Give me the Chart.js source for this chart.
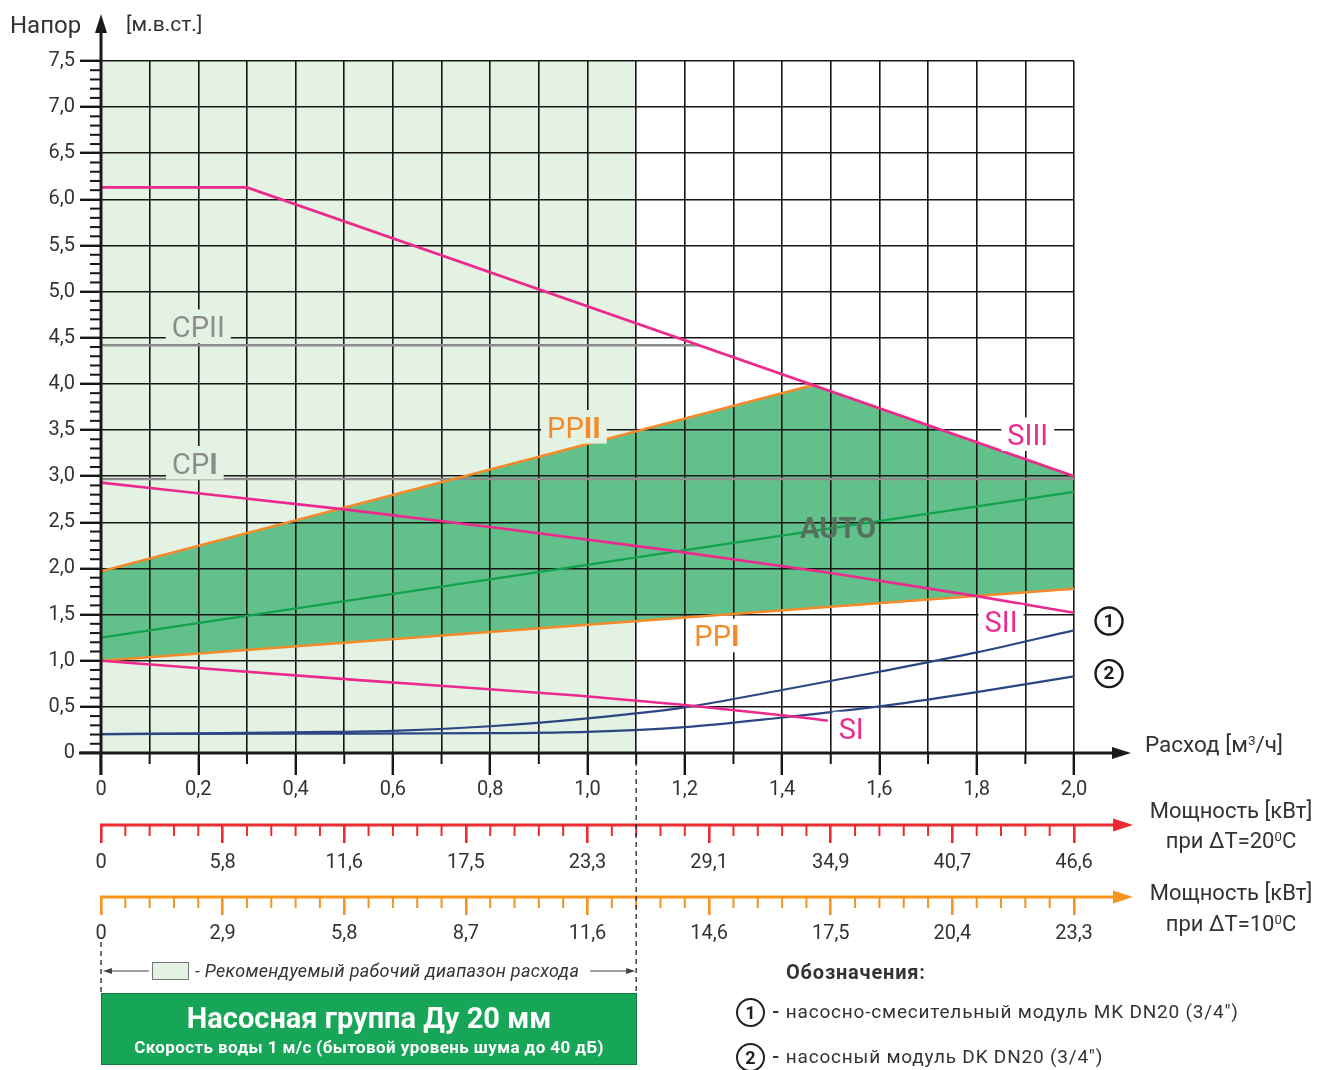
<!DOCTYPE html>
<html><head><meta charset="utf-8">
<script src="https://cdn.jsdelivr.net/npm/chart.js@4.4.1/dist/chart.umd.min.js"></script>
<style>
html,body{margin:0;padding:0;background:#fff;}
#wrap{position:relative;width:1320px;height:1070px;overflow:hidden;font-family:Roboto,'Open Sans',sans-serif;color:#333;}
canvas{position:absolute;left:0;top:0;}
.t{position:absolute;white-space:nowrap;line-height:1;}
.c{text-align:center;width:190px;}
.circ{position:absolute;width:25px;height:25px;border:2.4px solid #222;border-radius:50%;text-align:center;line-height:25px;font-weight:bold;font-size:18px;color:#222;}
sup{font-size:60%;vertical-align:0.55em;line-height:0;}
</style></head><body>
<div id="wrap">
<canvas id="c" width="1320" height="1070"></canvas>
<div class="t" style="left:10px;top:13px;font-size:24px;">Напор</div>
<div class="t" style="left:126px;top:14px;font-size:21px;">[м.в.ст.]</div>
<div class="t" style="left:1145px;top:733px;font-size:22.5px;">Расход [м<sup>3</sup>/ч]</div>
<div class="t c" style="left:1136px;top:800px;font-size:22px;">Мощность [кВт]</div>
<div class="t c" style="left:1136px;top:830px;font-size:22px;">при ∆T=20<sup>0</sup>C</div>
<div class="t c" style="left:1136px;top:882px;font-size:22px;">Мощность [кВт]</div>
<div class="t c" style="left:1136px;top:913px;font-size:22px;">при ∆T=10<sup>0</sup>C</div>
<div style="position:absolute;left:152px;top:962px;width:35px;height:16px;background:#e4f2e3;border:1.5px solid #777;"></div>
<div class="t" style="left:195px;top:962px;font-size:18px;letter-spacing:0.3px;font-style:italic;">- Рекомендуемый рабочий диапазон расхода</div>
<div style="position:absolute;left:101px;top:993px;width:534px;height:70px;background:#17a657;border:1px solid #0f7d40;color:#fff;text-align:center;font-weight:bold;">
  <div style="font-size:29px;margin-top:10px;line-height:1;">Насосная группа Ду 20 мм</div>
  <div style="font-size:17px;letter-spacing:0.4px;margin-top:6px;line-height:1;">Скорость воды 1 м/с (бытовой уровень шума до 40 дБ)</div>
</div>
<div class="t" style="left:786px;top:962px;font-size:20px;letter-spacing:0.8px;font-weight:bold;color:#333;">Обозначения:</div>
<div class="circ" style="left:736px;top:998px;">1</div>
<div class="t" style="left:772px;top:1002px;font-size:19px;letter-spacing:0.8px;"><b>-</b> насосно-смесительный модуль MK DN20 (3/4")</div>
<div class="circ" style="left:736px;top:1043px;">2</div>
<div class="t" style="left:772px;top:1047px;font-size:19px;letter-spacing:0.8px;"><b>-</b> насосный модуль DK DN20 (3/4")</div>
</div>
<script>
// ---- data (flow m3/h, head m) ----
const SIII = [[0,6.13],[0.3,6.13],[2.0,3.0]];
const SII  = [[0,2.93],[0.5,2.64],[0.82,2.435],[1.15,2.21],[1.5,1.95],[1.8,1.70],[2.0,1.52]];
const SI   = [[0,1.0],[0.53,0.79],[0.985,0.62],[1.2,0.52],[1.4,0.41],[1.494,0.35]];
const PPII = [[0,1.97],[1.466,3.99]];
const PPI  = [[0,1.0],[2.0,1.78]];
const CPII = [[0,4.42],[1.23,4.42]];
const CPI  = [[0,2.97],[2.0,2.97]];
const AUTO = [[0,1.25],[2.0,2.83]];
const MK_DN20 = [[0,0.205],[0.2,0.213],[0.4,0.225],[0.6,0.24],[0.8,0.29],[1.0,0.376],[1.2,0.495],[1.4,0.683],[1.6,0.881],[1.8,1.09],[2.0,1.33]];
const DK_DN20 = [[0,0.205],[0.4,0.21],[0.8,0.215],[1.0,0.228],[1.2,0.28],[1.4,0.385],[1.6,0.505],[1.8,0.66],[2.0,0.83]];
const recommendedFlow = [0, 1.1];
const headMax = 7.5, flowMax = 2.0;
// ---- tick labels ----
const headLabels = ['0','0,5','1,0','1,5','2,0','2,5','3,0','3,5','4,0','4,5','5,0','5,5','6,0','6,5','7,0','7,5'];
const flowLabels = ['0','0,2','0,4','0,6','0,8','1,0','1,2','1,4','1,6','1,8','2,0'];
const powerTickFlows = [0,0.25,0.5,0.75,1.0,1.25,1.5,1.75,2.0];
const power20Labels = ['0','5,8','11,6','17,5','23,3','29,1','34,9','40,7','46,6'];
const power10Labels = ['0','2,9','5,8','8,7','11,6','14,6','17,5','20,4','23,3'];
// ---- curve label anchors (data coords) ----
const curveLabels = [
  {parts:[['CPII',0]], x:0.20, y:4.62, color:'#8c8c8c', bg:'#e4f2e3'},
  {parts:[['CP',0],['I',1]], x:0.193, y:3.14, color:'#8c8c8c', bg:'#e4f2e3'},
  {parts:[['PP',0],['II',1]], x:0.972, y:3.53, color:'#f58a2a', bg:'#e4f2e3'},
  {parts:[['SIII',0]], x:1.905, y:3.45, color:'#ec2a8e', bg:'#ffffff'},
  {parts:[['AUTO',1]], x:1.515, y:2.44, color:'#56705e', bg:null},
  {parts:[['SII',0]], x:1.85, y:1.42, color:'#ec2a8e', bg:'#ffffff'},
  {parts:[['PP',0],['I',1]], x:1.266, y:1.268, color:'#f58a2a', bg:'#ffffff'},
  {parts:[['SI',0]], x:1.542, y:0.26, color:'#ec2a8e', bg:'#ffffff'}
];
const moduleMarks = [{n:'1', x:2.072, y:1.43},{n:'2', x:2.072, y:0.86}];

const C = {mag:'#ec2a8e', org:'#f58a2a', gray:'#8c8c8c', green:'#13a14d', navy:'#2c4583',
  zone:'#62c08a', light:'#e4f2e3', red:'#ec2a30', axOrg:'#f7941d', grid:'#161616', txt:'#333'};

const pts = a => a.map(([x,y]) => ({x,y}));
const zoneTop = PPII.concat(SIII.filter(p => p[0] > PPII[PPII.length-1][0]));

function line(data, color, w, smooth){
  return {data:pts(data), borderColor:color, borderWidth:w, pointRadius:0, fill:false,
    tension:0, cubicInterpolationMode: smooth ? 'monotone' : 'default'};
}
const datasets = [
  line(SI, C.mag, 2.6, true),        //0
  line(SII, C.mag, 2.6, true),       //1
  line(SIII, C.mag, 2.6, false),     //2
  line(PPI, C.org, 2.6, false),      //3
  line(PPII, C.org, 2.6, false),     //4
  line(CPI, C.gray, 2.6, false),     //5
  line(CPII, C.gray, 2.6, false),    //6
  line(AUTO, C.green, 2.4, false),   //7
  line(MK_DN20, C.navy, 2.2, true),  //8
  line(DK_DN20, C.navy, 2.2, true),  //9
  {data:pts(zoneTop), borderWidth:0, pointRadius:0, borderColor:'rgba(0,0,0,0)', backgroundColor:C.zone, fill:{target:3}, tension:0}, //10
  {data:pts([[recommendedFlow[0],headMax],[recommendedFlow[1],headMax]]), borderWidth:0, pointRadius:0,
    borderColor:'rgba(0,0,0,0)', backgroundColor:C.light, fill:'origin', tension:0} //11
];

function arrowHead(ctx, x, y, dir, len, half, color){
  ctx.fillStyle = color; ctx.beginPath();
  if (dir==='r'){ ctx.moveTo(x,y); ctx.lineTo(x-len,y-half); ctx.lineTo(x-len,y+half); }
  else if (dir==='l'){ ctx.moveTo(x,y); ctx.lineTo(x+len,y-half); ctx.lineTo(x+len,y+half); }
  else { ctx.moveTo(x,y); ctx.lineTo(x-half,y+len); ctx.lineTo(x+half,y+len); }
  ctx.closePath(); ctx.fill();
}

const decor = {
  id:'decor',
  afterDraw(chart){
    const ctx = chart.ctx, X = chart.scales.x, Y = chart.scales.y, P20 = chart.scales.p20, P10 = chart.scales.p10;
    const x0 = X.getPixelForValue(0), y0 = Y.getPixelForValue(0);
    ctx.save();
    // minor ticks
    ctx.strokeStyle = C.grid; ctx.lineWidth = 2;
    for (let i=0;i<=75;i++){ if (i%5===0) continue; const py = Y.getPixelForValue(i/10);
      ctx.beginPath(); ctx.moveTo(x0-11,py); ctx.lineTo(x0,py); ctx.stroke(); }
    for (let i=1;i<=20;i+=2){ const px = X.getPixelForValue(i/10);
      ctx.beginPath(); ctx.moveTo(px,y0); ctx.lineTo(px,y0+11); ctx.stroke(); }
    // main axes
    ctx.lineWidth = 3; ctx.strokeStyle = '#1a1a1a';
    ctx.beginPath(); ctx.moveTo(x0, y0+22); ctx.lineTo(x0, 30); ctx.stroke();
    arrowHead(ctx, x0, 14, 'u', 19, 6, '#1a1a1a');
    ctx.beginPath(); ctx.moveTo(x0-22, y0); ctx.lineTo(1115, y0); ctx.stroke();
    arrowHead(ctx, 1131, y0, 'r', 19, 6, '#1a1a1a');
    // power axes
    [[P20, C.red],[P10, C.axOrg]].forEach(([S,col])=>{
      const yy = S.top;
      ctx.strokeStyle = col; ctx.lineWidth = 3;
      ctx.beginPath(); ctx.moveTo(x0-1, yy); ctx.lineTo(1116, yy); ctx.stroke();
      arrowHead(ctx, 1133, yy, 'r', 20, 6.5, col);
      ctx.lineWidth = 2;
      for (let i=0;i<=40;i++){ if (i%5===0) continue; const px = S.getPixelForValue(i*0.05);
        ctx.beginPath(); ctx.moveTo(px,yy); ctx.lineTo(px,yy+11); ctx.stroke(); }
    });
    // dashed range lines
    const xr = X.getPixelForValue(recommendedFlow[1]);
    ctx.strokeStyle = '#222'; ctx.lineWidth = 1.3; ctx.setLineDash([5,4]);
    ctx.beginPath(); ctx.moveTo(xr, y0+8); ctx.lineTo(xr, 992); ctx.stroke();
    ctx.beginPath(); ctx.moveTo(x0, 942); ctx.lineTo(x0, 992); ctx.stroke();
    ctx.setLineDash([]);
    // range legend arrows
    ctx.strokeStyle = '#444'; ctx.lineWidth = 1.2;
    ctx.beginPath(); ctx.moveTo(x0+8, 971); ctx.lineTo(149, 971); ctx.stroke();
    arrowHead(ctx, x0+2, 971, 'l', 9, 3, '#444');
    ctx.beginPath(); ctx.moveTo(590, 971); ctx.lineTo(xr-8, 971); ctx.stroke();
    arrowHead(ctx, xr-1, 971, 'r', 9, 3, '#444');
    // curve labels
    const size = 29, cap = size*0.71;
    curveLabels.forEach(L=>{
      const cx = X.getPixelForValue(L.x), cy = Y.getPixelForValue(L.y);
      let w = 0;
      L.parts.forEach(p=>{ ctx.font = (p[1]?'bold ':'')+size+'px Roboto'; p.w = ctx.measureText(p[0]).width; w += p.w; });
      if (L.bg){ ctx.fillStyle = L.bg; ctx.fillRect(cx-w/2-6, cy-cap/2-7, w+12, cap+13); }
      ctx.fillStyle = L.color; ctx.textAlign = 'left'; ctx.textBaseline = 'alphabetic';
      let xx = cx - w/2;
      L.parts.forEach(p=>{ ctx.font = (p[1]?'bold ':'')+size+'px Roboto'; ctx.fillText(p[0], xx, cy+cap/2); xx += p.w; });
    });
    // module marks
    moduleMarks.forEach(m=>{
      const cx = X.getPixelForValue(m.x), cy = Y.getPixelForValue(m.y);
      ctx.strokeStyle = '#1a1a1a'; ctx.lineWidth = 2.4;
      ctx.beginPath(); ctx.arc(cx, cy, 13.5, 0, Math.PI*2); ctx.stroke();
      ctx.fillStyle = '#1a1a1a'; ctx.font = 'bold 19px Roboto'; ctx.textAlign = 'center'; ctx.textBaseline = 'middle';
      ctx.fillText(m.n, cx, cy+1);
    });
    ctx.restore();
  }
};

Chart.defaults.font.family = 'Roboto';
const isHalf = v => Math.round(v*10) % 5 === 0;
const isFifth = v => Math.round(v*10) % 2 === 0;
new Chart(document.getElementById('c'), {
  type:'line',
  data:{datasets},
  options:{
    responsive:false, animation:false, devicePixelRatio:1,
    layout:{padding:{top:61, right:246, left:0, bottom:0}},
    plugins:{legend:{display:false}, tooltip:{enabled:false}, filler:{drawTime:'beforeDraw'}},
    scales:{
      x:{type:'linear', position:'bottom', weight:0, min:0, max:flowMax,
        afterBuildTicks:s=>{ s.ticks = []; for(let i=0;i<=20;i++) s.ticks.push({value:i/10}); },
        afterFit:s=>{ s.height = 72; },
        grid:{color:C.grid, lineWidth:1.6, tickLength:22, tickWidth:2.4,
          tickColor:c=> isFifth(c.tick.value) ? C.grid : 'rgba(0,0,0,0)'},
        border:{display:false},
        ticks:{autoSkip:false, maxRotation:0, padding:3, color:C.txt, font:{size:20},
          callback:(v)=>{ const i=Math.round(v*10); return i%2===0 ? flowLabels[i/2] : ''; }}
      },
      p20:{type:'linear', axis:'x', position:'bottom', weight:1, min:0, max:flowMax,
        afterBuildTicks:s=>{ s.ticks = powerTickFlows.map(v=>({value:v})); },
        afterFit:s=>{ s.height = 72; },
        grid:{drawOnChartArea:false, color:C.red, lineWidth:2.6, tickLength:18},
        border:{display:false},
        ticks:{autoSkip:false, maxRotation:0, padding:8, color:C.txt, font:{size:20},
          callback:(v,i)=>power20Labels[i]}
      },
      p10:{type:'linear', axis:'x', position:'bottom', weight:2, min:0, max:flowMax,
        afterBuildTicks:s=>{ s.ticks = powerTickFlows.map(v=>({value:v})); },
        afterFit:s=>{ s.height = 173; },
        grid:{drawOnChartArea:false, color:C.axOrg, lineWidth:2.6, tickLength:18},
        border:{display:false},
        ticks:{autoSkip:false, maxRotation:0, padding:7, color:C.txt, font:{size:20},
          callback:(v,i)=>power10Labels[i]}
      },
      y:{type:'linear', position:'left', min:0, max:headMax,
        afterBuildTicks:s=>{ s.ticks = []; for(let i=0;i<=75;i++) s.ticks.push({value:i/10}); },
        afterFit:s=>{ s.width = 101; },
        grid:{lineWidth:1.6, tickLength:21, tickWidth:2.4,
          color:c=> isHalf(c.tick.value) ? C.grid : 'rgba(0,0,0,0)',
          tickColor:c=> isHalf(c.tick.value) ? C.grid : 'rgba(0,0,0,0)'},
        border:{display:false},
        ticks:{autoSkip:false, padding:5, color:C.txt, font:{size:20},
          callback:(v)=>{ const i=Math.round(v*10); return i%5===0 ? headLabels[i/5] : ''; }}
      }
    }
  },
  plugins:[decor]
});
</script>
</body></html>
